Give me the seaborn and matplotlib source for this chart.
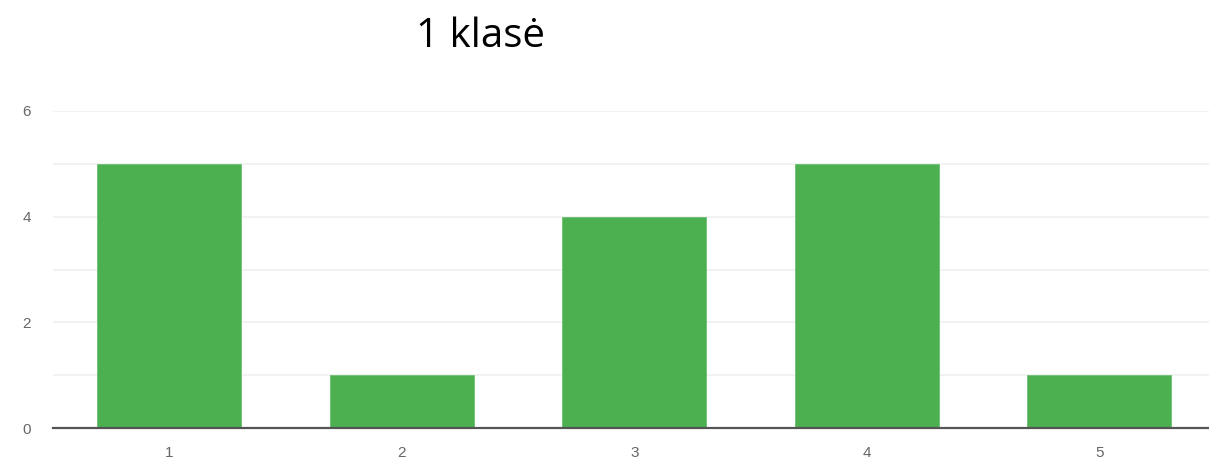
import matplotlib
matplotlib.use("Agg")
import matplotlib.pyplot as plt
import seaborn as sns
import pandas as pd

# data
categories = ["1", "2", "3", "4", "5"]
counts = [5, 1, 4, 5, 1]
y_ticks = [0, 2, 4, 6]
title = "1 klasė"

df = pd.DataFrame({"answer": categories, "count": counts})

sns.set_style("white")
plt.rcParams["font.family"] = ["Liberation Sans", "DejaVu Sans"]

fig = plt.figure(figsize=(12.09, 4.62), dpi=100)
ax = fig.add_axes([53 / 1209, 34 / 462, 1156 / 1209, 317 / 462])

sns.barplot(data=df, x="answer", y="count", color="#4caf50", width=0.62,
            saturation=1, edgecolor="#6cc070", linewidth=0.6, ax=ax, zorder=3)

ax.set_ylim(0, 6)
ax.set_xlim(-0.5, 4.472)
ax.set_yticks(y_ticks)
ax.set_yticks([1, 3, 5], minor=True)
ax.grid(axis="y", which="both", color="#f0f0f0", linewidth=1.2, zorder=0)
ax.tick_params(axis="both", which="both", length=0, labelsize=11, labelcolor="#666666")
ax.tick_params(axis="y", pad=16)
ax.tick_params(axis="x", pad=13)
ax.set_xlabel("")
ax.set_ylabel("")

for side in ["top", "right", "left"]:
    ax.spines[side].set_visible(False)
ax.spines["bottom"].set_color("#555555")
ax.spines["bottom"].set_linewidth(1.6)
ax.spines["bottom"].set_zorder(4)

fig.text(480 / 1209, 1 - 37 / 462, title, ha="center", va="center",
         fontsize=29, family=["Open Sans", "DejaVu Sans"], color="#000000")

fig.savefig("out.png", dpi=100)
